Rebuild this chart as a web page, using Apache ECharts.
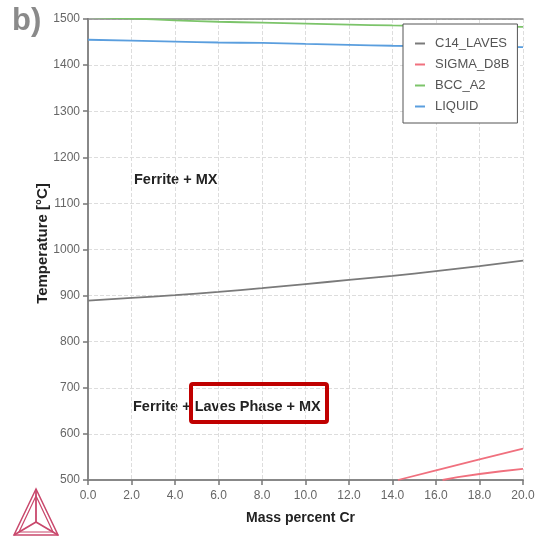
<!DOCTYPE html>
<html>
<head>
<meta charset="utf-8">
<script src="https://cdn.jsdelivr.net/npm/echarts@6/dist/echarts.min.js"></script>
<style>
  html, body { margin: 0; padding: 0; background: #fff; }
  #chart { width: 535px; height: 538px; }
</style>
</head>
<body>
<div id="chart"></div>
<script>
  // x positions (mass percent Cr)
  const crSteps = [0, 2, 4, 6, 8, 10, 12, 14, 16, 18, 20]

  // phase boundary temperatures
  const lavesTemp = [889, 895, 901, 908, 916, 925, 934, 943, 953, 964, 976]
  const bccTemp = [1504, 1501, 1497, 1494, 1492, 1490, 1488, 1486, 1485, 1484, 1483]
  const liquidTemp = [1455, 1453, 1451, 1449, 1448, 1446, 1444, 1442, 1441, 1440, 1439]
  // sigma has two branches
  const sigmaUpper = [[14.25, 500], [16, 521], [18, 545], [20, 568]]
  const sigmaLower = [[16.3, 500], [17, 506], [18, 513], [19, 519], [20, 524]]

  const legendNames = ['C14_LAVES', 'SIGMA_D8B', 'BCC_A2', 'LIQUID']

  const toPairs = (ys) => crSteps.map((x, i) => [x, ys[i]])

  const chart = echarts.init(document.getElementById('chart'))

  const lineStyle = (color) => ({ color: color, width: 1.8 })
  const font = 'Liberation Sans, Arial, sans-serif'
  const frame = { show: true, lineStyle: { color: '#888', width: 1.5 } }

  // logo geometry (Thermo-Calc triangle)
  const logoColor = '#c9486c'
  const apex = [36, 489], bl = [14, 535], br = [58, 535], ctr = [36, 522]

  const option = {
    animation: false,
    grid: {
      left: 88,
      right: 12,
      top: 19,
      bottom: 58,
      outerBoundsMode: 'none',
    },
    legend: {
      data: legendNames,
      orient: 'vertical',
      left: 403,
      top: 24,
      padding: [13, 8, 10, 12],
      itemGap: 8,
      itemWidth: 10,
      itemHeight: 2,
      icon: 'rect',
      backgroundColor: '#fff',
      borderColor: '#555',
      borderWidth: 1,
      borderRadius: 0,
      textStyle: { fontFamily: font, fontSize: 13, color: '#555', padding: [0, 0, 0, 5] },
    },
    xAxis: [
      {
        type: 'value',
        min: 0,
        max: 20,
        interval: 2,
        name: 'Mass percent Cr',
        nameLocation: 'middle',
        nameGap: 31,
        nameMoveOverlap: false,
        nameTextStyle: { fontFamily: font, fontSize: 14, fontWeight: 'bold', color: '#222', padding: [0, 10, 0, 0] },
        axisLine: { lineStyle: { color: '#888', width: 2 } },
        axisTick: { show: true, length: 5, lineStyle: { color: '#777', width: 1.5 } },
        axisLabel: {
          fontFamily: font,
          fontSize: 12,
          color: '#666',
          margin: 10,
          formatter: (v) => v.toFixed(1),
        },
        splitLine: { show: true, lineStyle: { color: '#ddd', type: 'dashed' } },
      },
      {
        type: 'value',
        position: 'top',
        min: 0,
        max: 20,
        axisLine: frame,
        axisTick: { show: false },
        axisLabel: { show: false },
        splitLine: { show: false },
      },
    ],
    yAxis: [
      {
        type: 'value',
        min: 500,
        max: 1500,
        interval: 100,
        name: 'Temperature [°C]',
        nameLocation: 'middle',
        nameGap: 38,
        nameMoveOverlap: false,
        nameTextStyle: { fontFamily: font, fontSize: 15, fontWeight: 'bold', color: '#222', padding: [0, 0, 0, 12] },
        axisLine: { show: true, lineStyle: { color: '#888', width: 2 } },
        axisTick: { show: true, length: 5, lineStyle: { color: '#777', width: 1.5 } },
        axisLabel: { fontFamily: font, fontSize: 12, color: '#666', margin: 8, formatter: (v) => String(v) },
        splitLine: { show: true, lineStyle: { color: '#ddd', type: 'dashed' } },
      },
      {
        type: 'value',
        position: 'right',
        min: 500,
        max: 1500,
        axisLine: frame,
        axisTick: { show: false },
        axisLabel: { show: false },
        splitLine: { show: false },
      },
    ],
    series: [
      {
        name: 'C14_LAVES',
        type: 'line',
        data: toPairs(lavesTemp),
        smooth: true,
        showSymbol: false,
        itemStyle: { color: '#7a7a7a' },
        lineStyle: lineStyle('#7a7a7a'),
        z: 3,
      },
      {
        name: 'SIGMA_D8B',
        type: 'line',
        data: sigmaUpper,
        showSymbol: false,
        itemStyle: { color: '#f0707e' },
        lineStyle: lineStyle('#f0707e'),
      },
      {
        name: 'SIGMA_D8B',
        type: 'line',
        data: sigmaLower,
        showSymbol: false,
        itemStyle: { color: '#f0707e' },
        lineStyle: lineStyle('#f0707e'),
      },
      {
        name: 'BCC_A2',
        type: 'line',
        data: toPairs(bccTemp),
        smooth: true,
        showSymbol: false,
        itemStyle: { color: '#7cc46a' },
        lineStyle: lineStyle('#7cc46a'),
      },
      {
        name: 'LIQUID',
        type: 'line',
        data: toPairs(liquidTemp),
        smooth: true,
        showSymbol: false,
        itemStyle: { color: '#5a9ede' },
        lineStyle: lineStyle('#5a9ede'),
      },
    ],
    graphic: [
      {
        type: 'text',
        left: 12,
        top: 6,
        style: { text: 'b)', font: 'bold 31px ' + font, fill: '#8a8a8a' },
      },
      {
        type: 'text',
        left: 134,
        top: 172,
        style: { text: 'Ferrite + MX', font: 'bold 14.5px ' + font, fill: '#222' },
      },
      {
        type: 'text',
        left: 133,
        top: 399,
        style: { text: 'Ferrite + Laves Phase + MX', font: 'bold 14.5px ' + font, fill: '#222' },
      },
      {
        type: 'rect',
        shape: { x: 191, y: 384, width: 136, height: 38, r: 2 },
        style: { fill: 'none', stroke: '#c00000', lineWidth: 4 },
        z: 10,
      },
      // logo
      {
        type: 'polygon',
        shape: { points: [apex, bl, br] },
        style: { fill: 'none', stroke: logoColor, lineWidth: 1.5 },
      },
      {
        type: 'polygon',
        shape: { points: [[36, 496], [19, 532], [53, 532]] },
        style: { fill: 'none', stroke: logoColor, lineWidth: 1.2 },
      },
      {
        type: 'polyline',
        shape: { points: [apex, ctr] },
        style: { stroke: logoColor, lineWidth: 1.8 },
      },
      {
        type: 'polyline',
        shape: { points: [bl, ctr, br] },
        style: { stroke: logoColor, lineWidth: 1.8 },
      },
    ],
  }

  chart.setOption(option)

  window.addEventListener('resize', () => chart.resize())
</script>
</body>
</html>
